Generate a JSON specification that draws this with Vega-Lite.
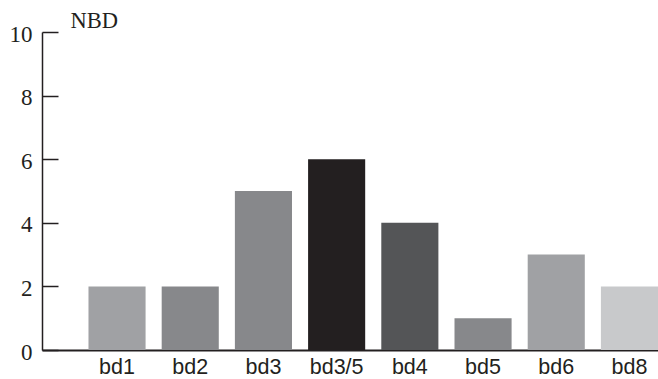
{
  "$schema": "https://vega.github.io/schema/vega-lite/v6.json",
  "width": 616,
  "height": 318,
  "autosize": {"type": "none"},
  "padding": {"left": 42, "top": 32, "right": 0, "bottom": 29},
  "background": "white",
  "data": {"values": [
    {"group": "bd1", "nbd": 2},
    {"group": "bd2", "nbd": 2},
    {"group": "bd3", "nbd": 5},
    {"group": "bd3/5", "nbd": 6},
    {"group": "bd4", "nbd": 4},
    {"group": "bd5", "nbd": 1},
    {"group": "bd6", "nbd": 3},
    {"group": "bd8", "nbd": 2}
  ]},
  "config": {"view": {"stroke": null}},
  "mark": {"type": "bar"},
  "encoding": {
    "x": {
      "field": "group", "type": "nominal", "sort": null,
      "scale": {"paddingInner": 0.22, "paddingOuter": 0.3175, "align": 1},
      "axis": {
        "title": null, "labelAngle": 0, "ticks": false,
        "labelFont": "Liberation Sans", "labelFontSize": 21.5, "labelColor": "#231f20",
        "labelPadding": 6, "labelBaseline": "top",
        "domainColor": "#231f20", "domainWidth": 2,
        "encode": {"labels": {"update": {"dy": {"signal": "datum.value === 'bd3/5' ? 4 : 0"}}}}
      }
    },
    "y": {
      "field": "nbd", "type": "quantitative",
      "scale": {"domain": [0, 10], "nice": false},
      "axis": {
        "values": [0, 2, 4, 6, 8, 10], "grid": false,
        "tickSize": -16, "tickColor": "#231f20", "tickWidth": 1.5,
        "domainColor": "#231f20", "domainWidth": 1.5,
        "labelFont": "Liberation Serif", "labelFontSize": 23, "labelColor": "#231f20",
        "labelPadding": 26, "labelOffset": 2,
        "title": "NBD", "titleAngle": 0, "titleFont": "Liberation Serif", "titleFontSize": 22.5,
        "titleFontWeight": "normal", "titleColor": "#231f20",
        "titleX": 28, "titleY": 0, "titleAlign": "left", "titleBaseline": "bottom"
      }
    },
    "color": {
      "field": "group", "type": "nominal", "legend": null,
      "scale": {
        "domain": ["bd1", "bd2", "bd3", "bd3/5", "bd4", "bd5", "bd6", "bd8"],
        "range": ["#a0a1a4", "#87888b", "#87888b", "#231f20", "#545557", "#87888b", "#a0a1a4", "#c8c9cb"]
      }
    }
  }
}
